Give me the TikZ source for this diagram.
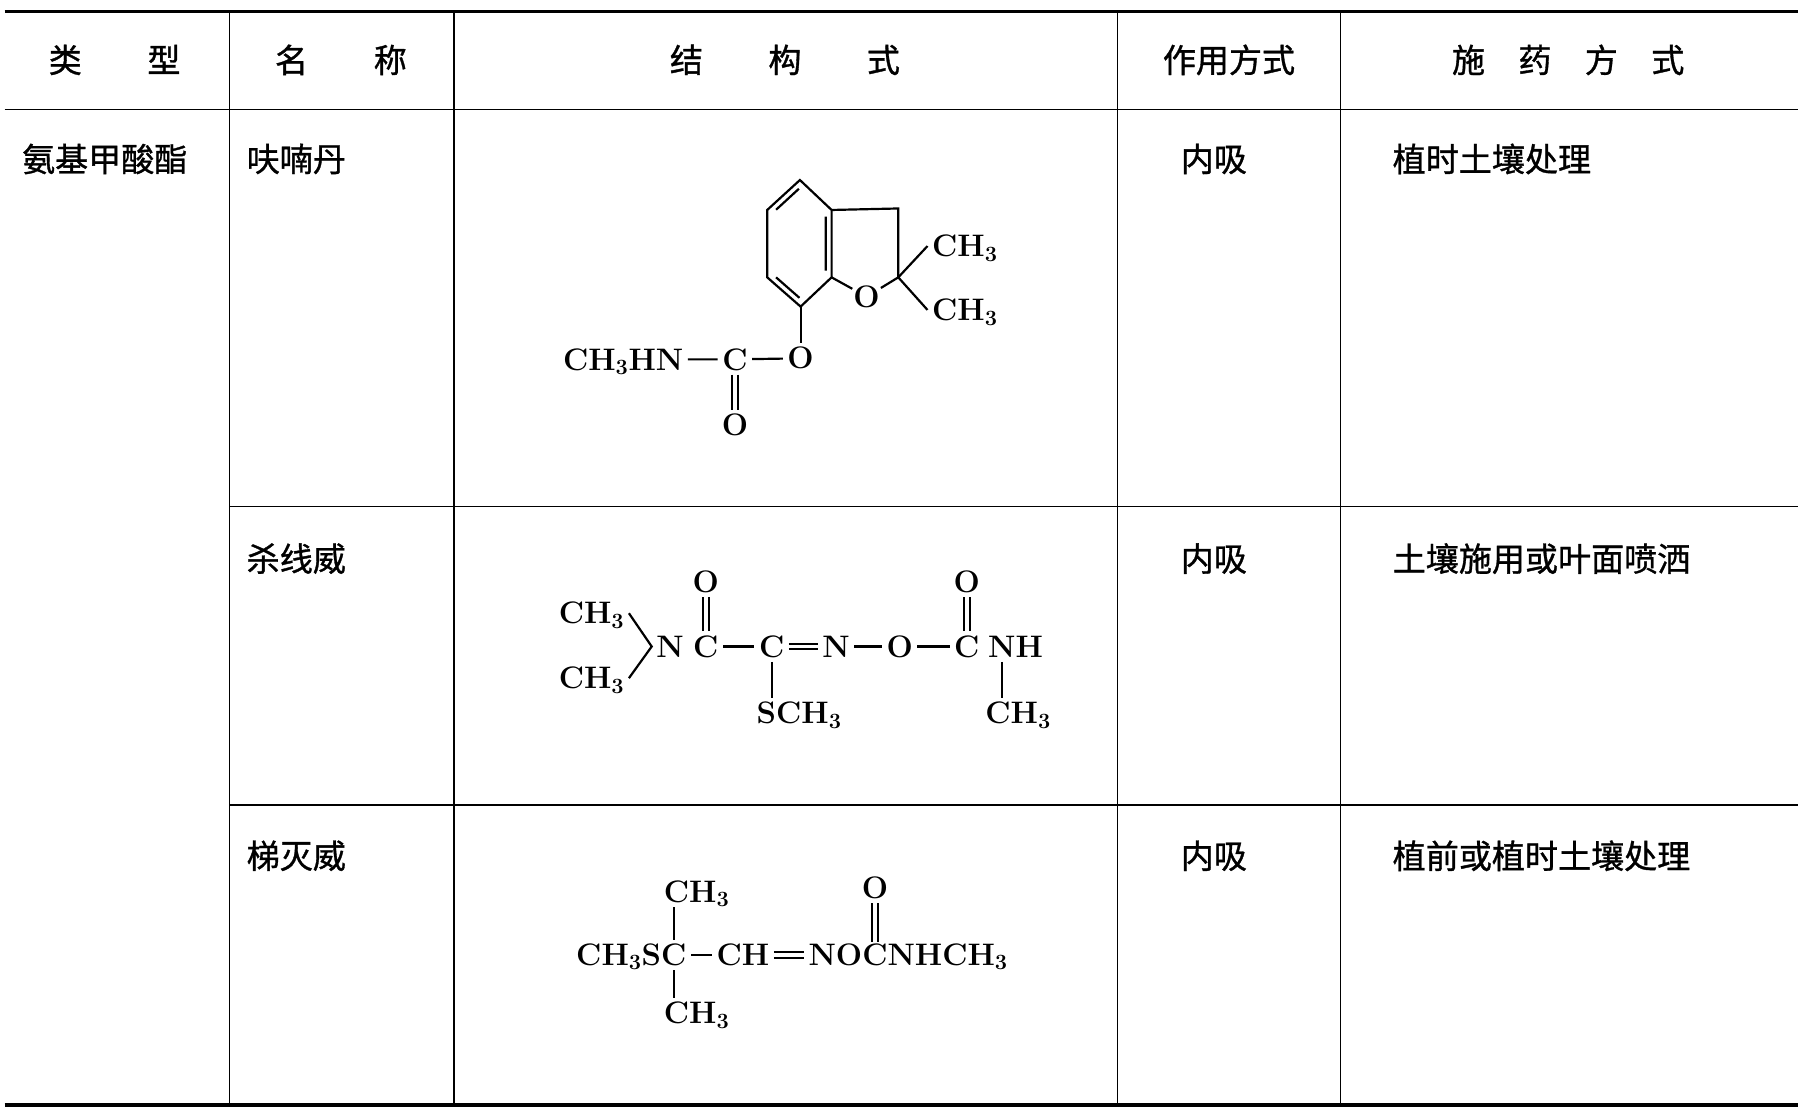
\documentclass[tikz,border=0pt]{standalone}
\usepackage{fontspec}
\newfontfamily\cjk[FakeBold=1]{Noto Sans CJK SC}
\newcommand{\CHthree}{CH\textsubscript{3}}
\begin{document}
\begin{tikzpicture}[x=1pt,y=-1pt]
  \tikzstyle{rule}=[line width=1.2pt]
  \tikzstyle{heavy rule}=[line width=3.2pt]
  \tikzstyle{cell}=[anchor=west,inner sep=0pt,font=\cjk\fontsize{28.7}{28.7}\selectfont]
  \tikzstyle{head}=[inner sep=0pt,font=\cjk\fontsize{28.7}{28.7}\selectfont]
  \tikzstyle{atom}=[inner sep=0pt,outer sep=4pt,text height=18.5pt,text depth=0pt,font=\fontsize{27}{27}\selectfont\bfseries]
  \tikzstyle{bond}=[line width=1.9pt]
  \useasboundingbox (0,0) rectangle (1568,966.3);
  \draw[heavy rule] (4,10) -- (1561,10);
  \draw[rule] (4,95) -- (1561,95);
  \draw[rule] (199,440) -- (1561,440) (199,699) -- (1561,699);
  \draw[heavy rule] (4,959.5) -- (1561,959.5);
  \foreach \x in {199,394,970,1164}
    \draw[rule] (\x,10) -- (\x,959.5);

  \node[head] (hType) at (99.5,52) {类\hspace{57pt}型};
  \node[head] (hName) at (296,52) {名\hspace{57pt}称};
  \node[head] (hForm) at (681.5,52) {结\hspace{56.8pt}构\hspace{56.8pt}式};
  \node[head] (hMode) at (1067,52) {作用方式};
  \node[head] (hUse) at (1361.5,52) {施\hspace{29pt}药\hspace{29pt}方\hspace{29pt}式};

  \node[cell] (type) at (19,138) {氨基甲酸酯};
  \node[cell] (name1) at (214,138) {呋喃丹};
  \node[cell] (mode1) at (1025,138) {内吸};
  \node[cell] (use1) at (1209,138) {植时土壤处理};
  \node[cell] (name2) at (214,485) {杀线威};
  \node[cell] (mode2) at (1025,485) {内吸};
  \node[cell] (use2) at (1209,485) {土壤施用或叶面喷洒};
  \node[cell] (name3) at (214,743) {梯灭威};
  \node[cell] (mode3) at (1025,743) {内吸};
  \node[cell] (use3) at (1209,743) {植前或植时土壤处理};

  \coordinate (rT) at (694.5,156.3);
  \coordinate (rUL) at (666.1,182.3);
  \coordinate (rLL) at (666.1,240.8);
  \coordinate (rB) at (695.1,266.2);
  \coordinate (rLR) at (722,240.8);
  \coordinate (rUR) at (722,182.3);
  \coordinate (rP) at (779.9,181);
  \coordinate (rQ) at (779.9,240.8);
  \node[atom,outer sep=1pt] (fO) at (752.4,257.6) {O};
  \node[atom] (fMe1) at (837.7,213.6) {\CHthree};
  \node[atom] (fMe2) at (837.7,269.1) {\CHthree};
  \node[atom] (fO2) at (695.1,311.1) {O};
  \node[atom] (fC) at (638.1,312) {C};
  \node[atom,anchor=east] (fN) at (597.2,312) {\CHthree HN};
  \node[atom] (fO3) at (638.1,369) {O};
  \draw[bond] (rT) -- (rUL) -- (rLL) -- (rB) -- (rLR) -- (rUR) -- cycle;
  \draw[bond] (673.8,182.1) -- (693.6,163.9) (717,188) -- (717,235) (673.8,240.8) -- (694.1,258.6);
  \draw[bond] (rUR) -- (rP) -- (rQ) -- (fO) -- (rLR);
  \draw[bond] (rQ) -- (fMe1.west) (rQ) -- (fMe2.west);
  \draw[bond] (rB) -- (fO2);
  \draw[bond] (fN) -- (fC) -- (fO2);
  \draw[bond] ([xshift=-2.5pt]fC.south) -- ([xshift=-2.5pt]fO3.north)
              ([xshift=2.5pt]fC.south) -- ([xshift=2.5pt]fO3.north);

  \node[atom] (kMe1) at (513.6,532.4) {\CHthree};
  \node[atom] (kMe2) at (513.6,588.8) {\CHthree};
  \node[atom] (kN1) at (581.7,561.3) {N};
  \node[atom] (kC1) at (612.8,561.3) {C};
  \node[atom] (kO1) at (612.8,504.9) {O};
  \node[atom] (kC2) at (670,561.3) {C};
  \node[atom] (kN2) at (725.8,561.3) {N};
  \node[atom] (kO2) at (781.1,561.3) {O};
  \node[atom] (kC3) at (839.4,561.3) {C};
  \node[atom] (kO3) at (839.4,504.9) {O};
  \node[atom,anchor=west] (kNH) at (854,561.3) {NH};
  \node[atom,anchor=west] (kS) at (653,619.2) {S\CHthree};
  \node[atom,anchor=west] (kMe3) at (851.5,619.2) {\CHthree};
  \draw[bond] (kMe1.east) -- (kN1.west) -- (kMe2.east);
  \draw[bond] (kC1) -- (kC2) (kN2) -- (kO2) -- (kC3);
  \draw[bond] ([yshift=2.5pt]kC2.east) -- ([yshift=2.5pt]kN2.west)
              ([yshift=-2.5pt]kC2.east) -- ([yshift=-2.5pt]kN2.west);
  \draw[bond] ([xshift=-2.5pt]kC1.north) -- ([xshift=-2.5pt]kO1.south)
              ([xshift=2.5pt]kC1.north) -- ([xshift=2.5pt]kO1.south);
  \draw[bond] ([xshift=-2.5pt]kC3.north) -- ([xshift=-2.5pt]kO3.south)
              ([xshift=2.5pt]kC3.north) -- ([xshift=2.5pt]kO3.south);
  \draw[bond] (kC2) -- (kC2 |- kS.north);
  \draw[bond] ([xshift=16pt]kNH.south west) -- ([xshift=16pt]kNH.south west |- kMe3.north);

  \node[atom,outer sep=0pt] (tC) at (585,829) {C};
  \node[atom,outer sep=0pt,anchor=east] (tS) at (tC.west) {\CHthree S};
  \node[atom] (tMe1) at (604.8,774) {\CHthree};
  \node[atom] (tMe2) at (604.8,879.6) {\CHthree};
  \node[atom] (tCH) at (645,829) {CH};
  \node[atom,outer sep=0pt] (tC2) at (759.6,829) {C};
  \node[atom,outer sep=0pt,anchor=east] (tNO) at (tC2.west) {NO};
  \node[atom,outer sep=0pt,anchor=west] (tNH) at (tC2.east) {NH\CHthree};
  \node[atom] (tO) at (759.6,771) {O};
  \draw[bond] ([yshift=4pt]tC.north) -- (tC.north |- tMe1.south);
  \draw[bond] ([yshift=-4pt]tC.south) -- (tC.south |- tMe2.north);
  \draw[bond] ([xshift=4pt]tC.east) -- (tCH);
  \draw[bond] ([yshift=2.5pt]tCH.east) -- ([yshift=2.5pt,xshift=-4pt]tNO.west)
              ([yshift=-2.5pt]tCH.east) -- ([yshift=-2.5pt,xshift=-4pt]tNO.west);
  \draw[bond] ([xshift=-2.5pt,yshift=2pt]tC2.north) -- ([xshift=-2.5pt]tO.south)
              ([xshift=2.5pt,yshift=2pt]tC2.north) -- ([xshift=2.5pt]tO.south);
\end{tikzpicture}
\end{document}
